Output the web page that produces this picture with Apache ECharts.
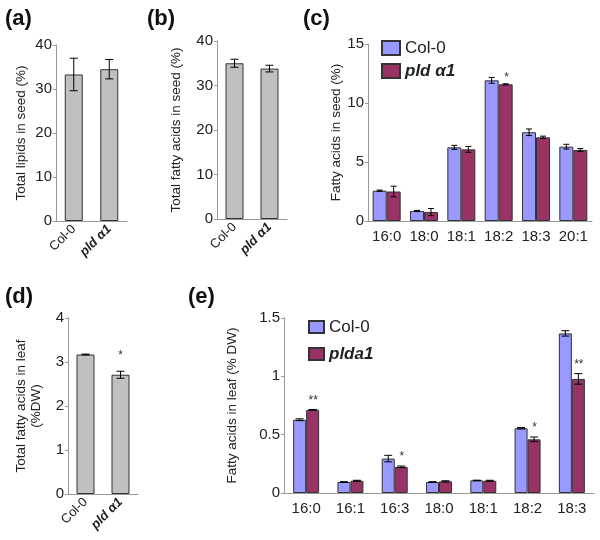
<!DOCTYPE html>
<html><head><meta charset="utf-8">
<script src="https://cdn.jsdelivr.net/npm/echarts@6/dist/echarts.min.js"></script>
<style>html,body{margin:0;padding:0;background:#fff}#c{width:600px;height:540px}</style>
</head><body><div id="c"></div>
<script>
// ---- data ----
const catsA = ['Col-0', 'pld α1'];
const lipidsA = [33.3, 34.5];
const lipidsErrA = [3.7, 2.2];
const fattyB = [35.0, 33.8];
const fattyErrB = [0.9, 0.75];
const catsC = ['16:0', '18:0', '18:1', '18:2', '18:3', '20:1'];
const colC = [2.57, 0.85, 6.24, 11.92, 7.52, 6.3];
const colErrC = [0.05, 0.05, 0.17, 0.25, 0.28, 0.2];
const pldC = [2.5, 0.76, 6.07, 11.58, 7.09, 6.02];
const pldErrC = [0.45, 0.3, 0.25, 0.05, 0.1, 0.12];
const sigC = ['', '', '', '*', '', ''];
const leafD = [3.17, 2.71];
const leafErrD = [0.01, 0.08];
const sigD = ['', '*'];
const catsE = ['16:0', '16:1', '16:3', '18:0', '18:1', '18:2', '18:3'];
const colE = [0.628, 0.094, 0.295, 0.094, 0.108, 0.555, 1.368];
const colErrE = [0.008, 0.003, 0.028, 0.003, 0.002, 0.006, 0.023];
const pldE = [0.713, 0.105, 0.224, 0.1, 0.105, 0.46, 0.978];
const pldErrE = [0.003, 0.004, 0.007, 0.005, 0.004, 0.02, 0.045];
const sigE = ['**', '', '*', '', '', '*', '**'];
const ticksA = [0, 40, 10], ticksC = [0, 15, 5], ticksD = [0, 4, 1], ticksE = [0, 1.5, 0.5];

// ---- styling ----
const FONT = '"Liberation Sans", Arial, sans-serif';
const BLUE = '#9999ff', PURPLE = '#993366', GRAY = '#c0c0c0', EDGE = '#333';
const AX = '#999';

function errRender(offset, cap) {
  return function (params, api) {
    const i = api.value(0), m = api.value(1), e = api.value(2);
    const t = api.coord([i, m + e]), b = api.coord([i, m - e]);
    const x = t[0] + offset;
    const st = { stroke: '#000', lineWidth: 1 };
    return { type: 'group', children: [
      { type: 'line', shape: { x1: x, y1: t[1], x2: x, y2: b[1] }, style: st },
      { type: 'line', shape: { x1: x - cap, y1: t[1], x2: x + cap, y2: t[1] }, style: st },
      { type: 'line', shape: { x1: x - cap, y1: b[1], x2: x + cap, y2: b[1] }, style: st }
    ]};
  };
}
function sigRender(offset, gap, sig) {
  return function (params, api) {
    const i = api.value(0), v = api.value(1);
    const s = sig[i];
    if (!s) return null;
    const p = api.coord([i, v]);
    return { type: 'text', x: p[0] + offset, y: p[1] - gap,
      style: { text: s, fill: '#333', font: '12px "Liberation Sans", sans-serif', align: 'center', verticalAlign: 'middle' } };
  };
}
function errData(m, e) { return m.map((v, i) => [i, v, e[i]]); }
function topData(m, e) { return m.map((v, i) => [i, v + e[i]]); }

function yAxis(grid, t, name, gap, extra) {
  return Object.assign({
    gridIndex: grid, type: 'value', min: t[0], max: t[1], interval: t[2],
    name: name, nameLocation: 'middle', nameRotate: 90, nameGap: gap,
    nameTextStyle: { fontFamily: FONT, fontSize: 13.5, color: '#222', lineHeight: 15 },
    axisLine: { show: true, lineStyle: { color: AX } },
    axisTick: { show: true, length: 3, lineStyle: { color: AX } },
    axisLabel: { fontFamily: FONT, fontSize: 15, color: '#222', margin: 4 },
    splitLine: { show: false }
  }, extra || {});
}
const richI = { i: { fontFamily: FONT, fontStyle: 'italic', fontWeight: 'bold', fontSize: 13, color: '#222' } };
function xAxisRot(grid, cats) {
  return {
    gridIndex: grid, type: 'category', data: cats,
    axisLine: { lineStyle: { color: AX } },
    axisTick: { length: 4, lineStyle: { color: AX } },
    axisLabel: { rotate: 45, fontFamily: FONT, fontSize: 13, color: '#222', margin: 6,
      formatter: v => v.indexOf('pld') === 0 ? '{i|' + v + '}' : v, rich: richI }
  };
}
function xAxisCat(grid, cats) {
  return {
    gridIndex: grid, type: 'category', data: cats,
    axisLine: { lineStyle: { color: AX } },
    axisTick: { length: 5, lineStyle: { color: AX } },
    axisLabel: { fontFamily: FONT, fontSize: 15, color: '#222', margin: 8, interval: 0 }
  };
}
const barStyle = c => ({ color: c, borderColor: EDGE, borderWidth: 1 });

const chart = echarts.init(document.getElementById('c'), null, { renderer: 'canvas' });
const legendText = { fontFamily: FONT, fontSize: 17, color: '#222', lineHeight: 20,
  rich: { i: { fontFamily: FONT, fontStyle: 'italic', fontWeight: 'bold', fontSize: 17, color: '#222' } } };

chart.setOption({
  animation: false,
  graphic: [
    ['(a)', 5, 8], ['(b)', 147, 8], ['(c)', 303, 8], ['(d)', 5, 286], ['(e)', 188, 286]
  ].map(d => ({ type: 'text', left: d[1], top: d[2],
    style: { text: d[0], font: 'bold 22px "Liberation Sans", Arial, sans-serif', fill: '#111' } })),
  legend: [
    { left: 381, top: 38, padding: 0, orient: 'vertical', icon: 'rect', itemWidth: 18, itemHeight: 14, itemGap: 3,
      data: ['Col-0', 'pld α1'], textStyle: legendText, selectedMode: false,
      formatter: n => n === 'pld α1' ? '{i|pld α1}' : n },
    { left: 308, top: 317, padding: 0, orient: 'vertical', icon: 'rect', itemWidth: 15, itemHeight: 12, itemGap: 7,
      data: ['Col-0 (e)', 'plda1'], textStyle: legendText, selectedMode: false,
      formatter: n => n === 'plda1' ? '{i|plda1}' : 'Col-0' }
  ],
  grid: [
    { left: 56, top: 45, width: 71, height: 176 },
    { left: 217, top: 41, width: 70, height: 178 },
    { left: 368, top: 44, width: 224, height: 177 },
    { left: 68, top: 318, width: 70, height: 176 },
    { left: 284, top: 318, width: 310, height: 175 }
  ],
  xAxis: [xAxisRot(0, catsA), xAxisRot(1, catsA), xAxisCat(2, catsC), xAxisRot(3, catsA), xAxisCat(4, catsE)],
  yAxis: [
    yAxis(0, ticksA, 'Total lipids in seed (%)', 27),
    yAxis(1, ticksA, 'Total fatty acids in seed (%)', 33),
    yAxis(2, ticksC, 'Fatty acids in seed (%)', 24),
    yAxis(3, ticksD, 'Total fatty acids in leaf\n(%DW)', 24),
    yAxis(4, ticksE, 'Fatty acids in leaf (% DW)', 44)
  ],
  series: [
    { type: 'bar', name: 'a', xAxisIndex: 0, yAxisIndex: 0, data: lipidsA, barWidth: 18, itemStyle: barStyle(GRAY) },
    { type: 'custom', xAxisIndex: 0, yAxisIndex: 0, renderItem: errRender(0, 4), data: errData(lipidsA, lipidsErrA), encode: { x: 0, y: 1 }, z: 5 },
    { type: 'bar', name: 'b', xAxisIndex: 1, yAxisIndex: 1, data: fattyB, barWidth: 18, itemStyle: barStyle(GRAY) },
    { type: 'custom', xAxisIndex: 1, yAxisIndex: 1, renderItem: errRender(0, 4), data: errData(fattyB, fattyErrB), encode: { x: 0, y: 1 }, z: 5 },

    { type: 'bar', name: 'Col-0', xAxisIndex: 2, yAxisIndex: 2, data: colC, barWidth: 14, barGap: '0%', itemStyle: barStyle(BLUE) },
    { type: 'bar', name: 'pld α1', xAxisIndex: 2, yAxisIndex: 2, data: pldC, barWidth: 14, barGap: '0%', itemStyle: barStyle(PURPLE) },
    { type: 'custom', xAxisIndex: 2, yAxisIndex: 2, renderItem: errRender(-7, 3), data: errData(colC, colErrC), encode: { x: 0, y: 1 }, z: 5 },
    { type: 'custom', xAxisIndex: 2, yAxisIndex: 2, renderItem: errRender(7, 3), data: errData(pldC, pldErrC), encode: { x: 0, y: 1 }, z: 5 },
    { type: 'custom', xAxisIndex: 2, yAxisIndex: 2, renderItem: sigRender(8, 6, sigC), data: topData(pldC, pldErrC), encode: { x: 0, y: 1 }, z: 6 },

    { type: 'bar', name: 'd', xAxisIndex: 3, yAxisIndex: 3, data: leafD, barWidth: 18, itemStyle: barStyle(GRAY) },
    { type: 'custom', xAxisIndex: 3, yAxisIndex: 3, renderItem: errRender(0, 4), data: errData(leafD, leafErrD), encode: { x: 0, y: 1 }, z: 5 },
    { type: 'custom', xAxisIndex: 3, yAxisIndex: 3, renderItem: sigRender(0, 16, sigD), data: topData(leafD, leafErrD), encode: { x: 0, y: 1 }, z: 6 },

    { type: 'bar', name: 'Col-0 (e)', xAxisIndex: 4, yAxisIndex: 4, data: colE, barWidth: 13, barGap: '0%', itemStyle: barStyle(BLUE) },
    { type: 'bar', name: 'plda1', xAxisIndex: 4, yAxisIndex: 4, data: pldE, barWidth: 13, barGap: '0%', itemStyle: barStyle(PURPLE) },
    { type: 'custom', xAxisIndex: 4, yAxisIndex: 4, renderItem: errRender(-6.5, 4), data: errData(colE, colErrE), encode: { x: 0, y: 1 }, z: 5 },
    { type: 'custom', xAxisIndex: 4, yAxisIndex: 4, renderItem: errRender(6.5, 4), data: errData(pldE, pldErrE), encode: { x: 0, y: 1 }, z: 5 },
    { type: 'custom', xAxisIndex: 4, yAxisIndex: 4, renderItem: sigRender(7, 9, sigE), data: topData(pldE, pldErrE), encode: { x: 0, y: 1 }, z: 6 }
  ]
});
</script></body></html>
